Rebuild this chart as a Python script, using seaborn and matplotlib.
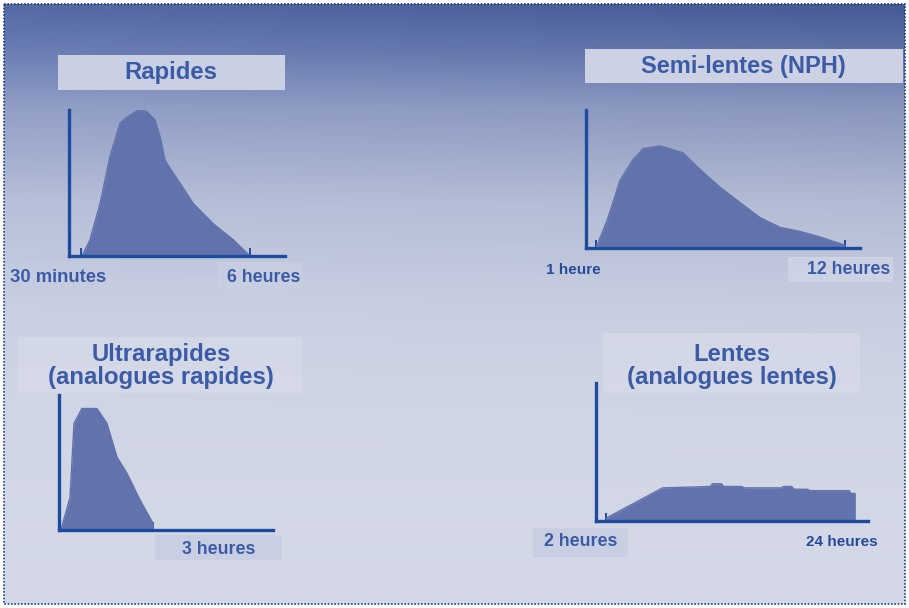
import numpy as np
import pandas as pd
import matplotlib
matplotlib.use("Agg")
import matplotlib.pyplot as plt
from matplotlib.patches import Rectangle
import seaborn as sns

# ---- insulin action profiles (hours after injection, relative activity %) ----
rapides_h = [0.53, 0.79, 1.12, 1.44, 1.77, 1.99, 2.36, 2.64, 2.91, 3.07, 3.23, 3.40, 3.72, 4.15, 4.81, 5.46, 6.0]
rapides_a = [0, 11, 36, 68, 91, 95, 100, 99, 93, 82, 66, 60, 50, 36, 22, 11, 0]

nph_h = [1.0, 1.49, 2.06, 2.63, 3.08, 3.83, 4.84, 5.59, 6.48, 7.36, 8.25, 9.13, 10.01, 10.90, 12.0]
nph_a = [0, 20, 49, 64, 72, 74, 69, 57, 44, 33, 22, 15, 12, 8, 2]

ultra_h = [0.06, 0.35, 0.48, 0.73, 1.21, 1.53, 1.85, 2.17, 2.59, 3.0, 3.0]
ultra_a = [0, 24, 79, 90, 90, 79, 54, 42, 22, 5, 0]

lentes_h = [2.0, 7.0, 11.2, 11.4, 12.2, 12.4, 14.0, 14.2, 17.5, 17.7, 18.4, 18.6, 19.8, 20.0, 23.5, 23.6, 24.0, 24.0]
lentes_a = [2, 24, 25, 27, 27, 25, 25, 24, 24, 25, 25, 23, 23, 22, 22, 20, 20, 0]

titles = ["Rapides", "Semi-lentes (NPH)", "Ultrarapides\n(analogues rapides)", "Lentes\n(analogues lentes)"]
tick_labels = [["30 minutes", "6 heures"], ["1 heure", "12 heures"], ["3 heures"], ["2 heures", "24 heures"]]

W, H = 909, 608
FILL = "#6272ac"
AXIS = "#1d4c9e"
TXT = "#3b5ba6"

sns.set_theme(style="white")
plt.rcParams["font.family"] = ["Liberation Sans", "DejaVu Sans"]

fig = plt.figure(figsize=(W / 100, H / 100), dpi=100)
fig.patch.set_facecolor("white")

# ---- background canvas in pixel coordinates ----
bg = fig.add_axes([0, 0, 1, 1])
bg.set_xlim(0, W)
bg.set_ylim(H, 0)
bg.axis("off")

yy = np.linspace(0, 1, 300)[:, None]
xx = np.linspace(0, 1, 200)[None, :]
stops_y = [0.0, 0.08, 0.17, 0.33, 0.5, 0.65, 1.0]
stops_c = np.array([
    [84, 104, 164],
    [108, 126, 180],
    [145, 158, 198],
    [183, 192, 217],
    [201, 207, 226],
    [208, 213, 229],
    [213, 217, 231],
]) / 255.0
grad = np.stack([np.interp(yy[:, 0], stops_y, stops_c[:, k]) for k in range(3)], axis=-1)
grad = np.repeat(grad[:, None, :], xx.shape[1], axis=1)
# slightly deeper tone toward the upper right
shade = (1 - yy) ** 3 * (xx * 0.06)
grad = np.clip(grad - shade[..., None], 0, 1)
bg.imshow(grad, extent=(4, 905, 604, 4), aspect="auto", zorder=0)
bg.add_patch(Rectangle((4, 4), 901, 600, fill=False, ec="#1f3f7f", lw=1.2,
                       ls=(0, (1, 1)), zorder=5))


def box(l, t, r, b, color, alpha=1.0):
    bg.add_patch(Rectangle((l, t), r - l, b - t, fc=color, ec="none", alpha=alpha, zorder=1))


# title boxes
box(58, 55, 285, 90, "#c9d0e3")
box(585, 49, 903, 83, "#ccd2e4")
box(18, 337, 302, 393, "#d6dae8", 0.8)
box(603, 333, 860, 393, "#d6dae8", 0.8)
# label boxes
box(4, 262, 115, 290, "#c4cce0", 0.5)
box(217, 262, 303, 290, "#c8cfe3", 0.8)
box(788, 257, 893, 282, "#d0d6e7", 0.8)
box(155, 535, 282, 560, "#c9cfe2")
box(533, 528, 628, 557, "#c9cfe2")

tfont = dict(color=TXT, fontweight="bold", ha="center", va="center", zorder=3)
bg.text(171, 73, titles[0], fontsize=17.2, **tfont)
bg.text(743, 67, titles[1], fontsize=17, **tfont)
bg.text(161, 366, titles[2], fontsize=17.2, linespacing=1.05, **tfont)
bg.text(732, 366, titles[3], fontsize=17.2, linespacing=1.05, **tfont)

lfont = dict(color=TXT, fontweight="bold", ha="center", va="center", fontsize=12.8, zorder=3)
bg.text(58, 277, tick_labels[0][0], fontsize=13.3,
        **{k: v for k, v in lfont.items() if k != "fontsize"})
bg.text(264, 277, tick_labels[0][1], **lfont)
bg.text(849, 270, tick_labels[1][1], **lfont)
bg.text(219, 549, tick_labels[2][0], **lfont)
bg.text(581, 542, tick_labels[3][0], **lfont)
nfont = dict(color="#274b9b", fontweight="bold", ha="center", va="center", fontsize=11,
             family=["Liberation Sans Narrow", "Liberation Sans", "DejaVu Sans"], zorder=3)
bg.text(573, 270, tick_labels[1][0], **nfont)
bg.text(842, 542, tick_labels[3][1], **nfont)


def px_rect(l, t, r, b):
    return [l / W, 1 - b / H, (r - l) / W, (b - t) / H]


def profile(rect, hours, act, xlim, ticks):
    ax = fig.add_axes(px_rect(*rect))
    ax.patch.set_alpha(0)
    df = pd.DataFrame({"heures": hours, "activite": act})
    ax.fill_between(df["heures"], df["activite"], 0, color=FILL, lw=0, zorder=2)
    sns.lineplot(data=df, x="heures", y="activite", ax=ax, color=FILL, lw=1,
                 estimator=None, sort=False, zorder=2)
    ax.set_xlim(*xlim)
    ax.set_ylim(0, 100)
    for s in ("top", "right"):
        ax.spines[s].set_visible(False)
    for s in ("left", "bottom"):
        ax.spines[s].set_color(AXIS)
        ax.spines[s].set_linewidth(2.4)
        ax.spines[s].set_zorder(4)
    ax.set_xticks(ticks)
    ax.set_yticks([])
    ax.tick_params(axis="x", direction="in", length=6, width=1.4, color=AXIS,
                   labelbottom=False, bottom=True)
    ax.set_xlabel("")
    ax.set_ylabel("")
    ax.grid(False)
    return ax


profile((69, 110, 285, 256), rapides_h, rapides_a, (0.109, 7.139), [0.5, 6.0])
profile((586, 110, 860, 248), nph_h, nph_a, (0.558, 12.663), [1.0, 12.0])
profile((59, 395, 273, 530), ultra_h, ultra_a, (0.0, 6.83), [3.0])
profile((596, 383, 868, 521), lentes_h, lentes_a, (1.117, 25.15), [2.0])

fig.savefig("out.png", dpi=100, facecolor="white")
